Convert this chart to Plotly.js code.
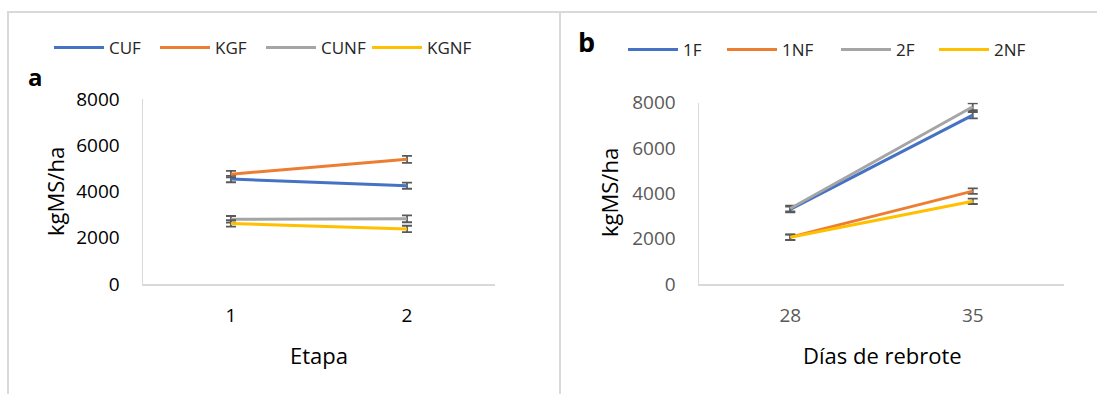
<!DOCTYPE html>
<html>
<head>
<meta charset="utf-8">
<script src="https://cdn.plot.ly/plotly-3.0.1.min.js"></script>
<style>
  html, body { margin: 0; padding: 0; background: #fff; }
  #chart { width: 1097px; height: 394px; }
</style>
</head>
<body>
<div id="chart"></div>
<script>
// Panel a: forage mass (kgMS/ha) by stage
const etapas = ['1', '2'];
const cuf  = [4540, 4250];
const kgf  = [4750, 5390];
const cunf = [2800, 2820];
const kgnf = [2620, 2380];
const cufErr  = [140, 130];
const kgfErr  = [140, 150];
const cunfErr = [140, 150];
const kgnfErr = [140, 140];

// Panel b: forage mass (kgMS/ha) by regrowth days
const dias = ['28', '35'];
const f1  = [3290, 7450];
const nf1 = [2070, 4100];
const f2  = [3330, 7820];
const nf2 = [2060, 3650];
const f1Err  = [130, 140];
const nf1Err = [120, 120];
const f2Err  = [130, 150];
const nf2Err = [120, 120];

const namesA = ['CUF', 'KGF', 'CUNF', 'KGNF'];
const namesB = ['1F', '1NF', '2F', '2NF'];

const W = 1097, H = 394;
const px = x => x / W;
const py = y => 1 - y / H;

const colors = ['#4472C4', '#ED7D31', '#A5A5A5', '#FFC000'];
const errColor = '#595959';
const FONT = 'Open Sans, Noto Sans, sans-serif';

function series(x, y, err, name, color, xa, ya, legend, lw) {
  return {
    type: 'scatter', mode: 'lines', x: x, y: y, name: name,
    xaxis: xa, yaxis: ya, legend: legend, legendwidth: lw,
    line: { color: color, width: 3 },
    error_y: { type: 'data', array: err, visible: true, color: errColor, thickness: 1.8, width: 5 },
    hoverinfo: 'skip'
  };
}

const data = [
  series(etapas, cuf,  cufErr,  namesA[0], colors[0], 'x', 'y', 'legend', 41),
  series(etapas, kgf,  kgfErr,  namesA[1], colors[1], 'x', 'y', 'legend', 41),
  series(etapas, cunf, cunfErr, namesA[2], colors[2], 'x', 'y', 'legend', 41),
  series(etapas, kgnf, kgnfErr, namesA[3], colors[3], 'x', 'y', 'legend', 41),
  series(dias, f1,  f1Err,  namesB[0], colors[0], 'x2', 'y2', 'legend2', 34),
  series(dias, nf1, nf1Err, namesB[1], colors[1], 'x2', 'y2', 'legend2', 49),
  series(dias, f2,  f2Err,  namesB[2], colors[2], 'x2', 'y2', 'legend2', 33),
  series(dias, nf2, nf2Err, namesB[3], colors[3], 'x2', 'y2', 'legend2', 40)
];

const axisLine = '#D9D9D9';

function xAxis(domain, anchor) {
  return {
    domain: domain, anchor: anchor, type: 'category', range: [-0.5, 1.5],
    showline: true, linecolor: axisLine, linewidth: 1.5,
    showgrid: false, zeroline: false, ticks: '',
    ticklabelstandoff: 14, fixedrange: true
  };
}
function yAxis(domain, anchor, tickColor) {
  return {
    domain: domain, anchor: anchor, range: [0, 8000], dtick: 2000,
    showline: true, linecolor: axisLine, linewidth: 1.5,
    showgrid: false, zeroline: false, ticks: '',
    tickfont: { size: 19, color: tickColor, family: FONT },
    ticklabelstandoff: 18, fixedrange: true
  };
}

const xa = xAxis([px(143), px(495)], 'y');
xa.tickfont = { size: 19, color: '#000000', family: FONT };
const xb = xAxis([px(699), px(1064)], 'y2');
xb.tickfont = { size: 19, color: '#595959', family: FONT };

function legendBox(x, y) {
  return {
    orientation: 'h', x: x, y: y, xanchor: 'left', yanchor: 'middle',
    xref: 'paper', yref: 'paper', itemwidth: 50,
    bgcolor: 'rgba(0,0,0,0)', borderwidth: 0,
    font: { size: 17, color: '#262626', family: FONT },
    itemclick: false, itemdoubleclick: false
  };
}

function label(text, x, y, size, opts) {
  return Object.assign({
    text: text, x: px(x), y: py(y), xref: 'paper', yref: 'paper',
    xanchor: 'center', yanchor: 'middle', showarrow: false,
    font: { size: size, color: '#000000', family: FONT }
  }, opts || {});
}

function border(x0, y0, x1, y1) {
  return {
    type: 'line', xref: 'paper', yref: 'paper',
    x0: px(x0), y0: py(y0), x1: px(x1), y1: py(y1),
    line: { color: '#D9D9D9', width: 2 }
  };
}

const layout = {
  width: W, height: H,
  margin: { l: 0, r: 0, t: 0, b: 0 },
  paper_bgcolor: '#FFFFFF', plot_bgcolor: '#FFFFFF',
  font: { family: FONT, color: '#000000' },
  xaxis: xa,
  yaxis: yAxis([py(284), py(99)], 'x', '#000000'),
  xaxis2: xb,
  yaxis2: yAxis([py(284), py(102.7)], 'x2', '#595959'),
  legend: legendBox(px(49), py(48)),
  legend2: legendBox(px(623), py(50)),
  showlegend: true,
  annotations: [
    label('a', 35.5, 77, 24, { font: { size: 24, color: '#000', family: FONT, weight: 'bold' } }),
    label('b', 586.5, 42, 27, { font: { size: 27, color: '#000', family: FONT, weight: 'bold' } }),
    label('Etapa', 319, 355, 22),
    label('Días de rebrote', 882, 355, 22),
    label('kgMS/ha', 55, 192, 22, { textangle: -90 }),
    label('kgMS/ha', 609, 193, 22, { textangle: -90 })
  ],
  shapes: [
    border(7, 12, 1097, 12),
    border(8, 12, 8, 394),
    border(560, 12, 560, 394)
  ]
};

Plotly.newPlot('chart', data, layout, { displayModeBar: false, staticPlot: true });
</script>
</body>
</html>
